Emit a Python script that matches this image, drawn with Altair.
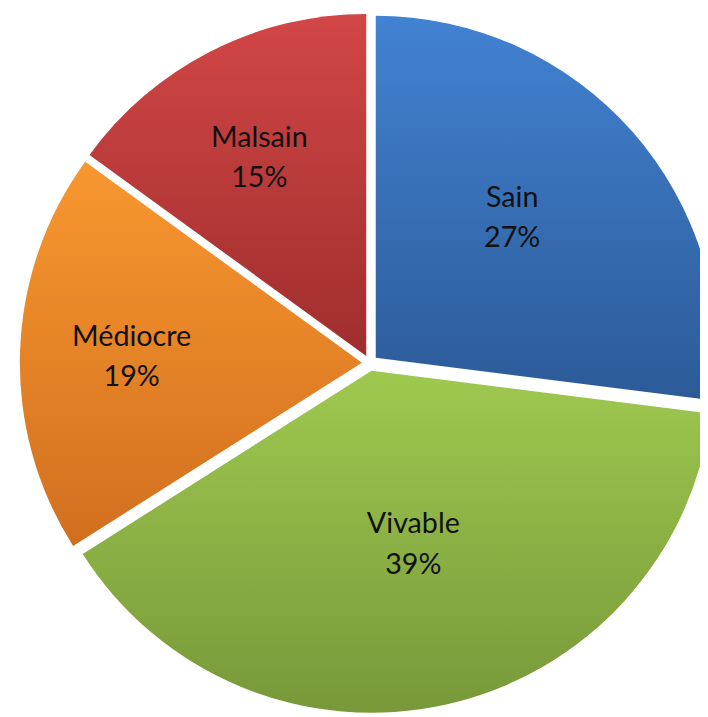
import math
import altair as alt
import pandas as pd

categories = ["Sain", "Vivable", "Médiocre", "Malsain"]
values = [27, 39, 19, 15]
top_colors = ["#4282D2", "#9EC94F", "#F8972F", "#D24646"]
bottom_colors = ["#2C5A97", "#789839", "#D26F1F", "#9F2E2D"]
label_radius = [196, 180, 228, 225]
label_dx = [-9, 3, -5, -6]
label_dy = [-32, -20, -19, -20]

df = pd.DataFrame({"category": categories, "value": values, "order": list(range(len(values)))})

CX, CY = 366, 355
R = 346
EXPLODE = 8
total = sum(values)
theta_scale = alt.Scale(domain=[0, total], range=[0, 2 * math.pi])

base = (
    alt.Chart(df)
    .transform_window(end="sum(value)", sort=[alt.SortField("order")], frame=[None, 0])
    .transform_calculate(start="datum.end - datum.value")
    .transform_calculate(mid="(datum.start + datum.end) / 2")
    .transform_calculate(label="datum.category + '\\n' + datum.value + '%'")
)

layers = []
cum = 0
for i, cat in enumerate(categories):
    mid = (cum + values[i] / 2) / total * 2 * math.pi
    cum += values[i]
    ox = EXPLODE * math.sin(mid)
    oy = -EXPLODE * math.cos(mid)
    grad = alt.LinearGradient(
        gradient="linear",
        stops=[alt.GradientStop(color=top_colors[i], offset=0),
               alt.GradientStop(color=bottom_colors[i], offset=1)],
        x1=0, x2=0, y1=0, y2=1,
    )
    sub = base.transform_filter(alt.datum.category == cat)
    arc = sub.mark_arc(outerRadius=R, innerRadius=0, xOffset=ox, yOffset=oy,
                       fill=grad, strokeWidth=0).encode(
        theta=alt.Theta("start:Q", scale=theta_scale),
        theta2="end:Q",
        x=alt.value(CX), y=alt.value(CY),
    )
    txt = sub.mark_text(radius=label_radius[i], xOffset=ox, yOffset=oy,
                        dx=label_dx[i], dy=label_dy[i],
                        font="Lato", fontSize=29, lineBreak="\n", lineHeight=41,
                        color="#111111", align="center", baseline="middle").encode(
        theta=alt.Theta("mid:Q", scale=theta_scale),
        text="label:N",
        x=alt.value(CX), y=alt.value(CY),
    )
    layers += [arc, txt]

chart = alt.layer(*layers).properties(
    width=700, height=709, autosize="none", padding=0
).configure_view(stroke=None)

chart.save("out.html", embed_options={"renderer": "svg", "actions": False})
